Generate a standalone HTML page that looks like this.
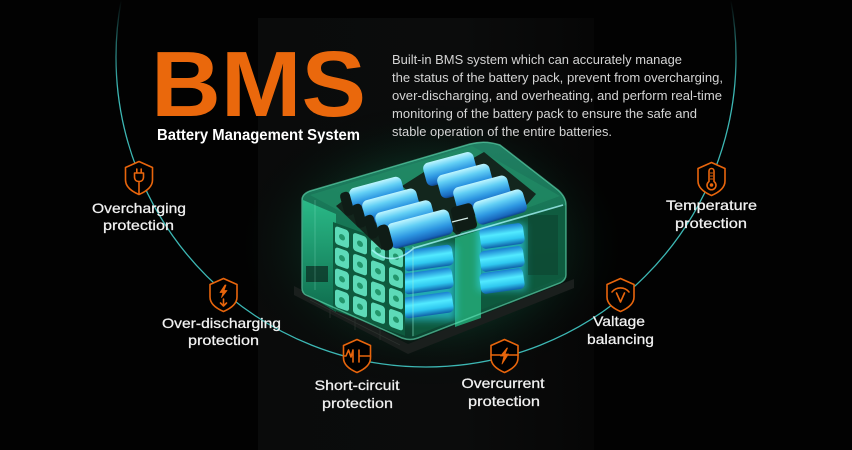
<!DOCTYPE html>
<html><head><meta charset="utf-8"><style>
html,body{margin:0;padding:0;background:#000;}
svg{display:block;}
</style></head><body>
<svg width="852" height="450" viewBox="0 0 852 450" xmlns="http://www.w3.org/2000/svg">
<defs>
  <linearGradient id="panel" x1="0" y1="0" x2="1" y2="0">
    <stop offset="0" stop-color="#0a0b0b"/>
    <stop offset="0.6" stop-color="#0b0c0c"/>
    <stop offset="1" stop-color="#060606"/>
  </linearGradient>
  <radialGradient id="glow" cx="0.5" cy="0.5" r="0.5">
    <stop offset="0" stop-color="#10744c" stop-opacity="0.85"/>
    <stop offset="0.55" stop-color="#0a3e2a" stop-opacity="0.5"/>
    <stop offset="1" stop-color="#000" stop-opacity="0"/>
  </radialGradient>
  <linearGradient id="arcg" gradientUnits="userSpaceOnUse" x1="0" y1="0" x2="0" y2="90">
    <stop offset="0" stop-color="#3cb7b4" stop-opacity="0"/>
    <stop offset="0.5" stop-color="#3cb7b4" stop-opacity="0.6"/>
    <stop offset="1" stop-color="#3cb7b4" stop-opacity="1"/>
  </linearGradient>
  <linearGradient id="cylTop" x1="0" y1="0" x2="0" y2="1">
    <stop offset="0" stop-color="#c0f6ff"/>
    <stop offset="0.3" stop-color="#62cff5"/>
    <stop offset="0.62" stop-color="#2e98e2"/>
    <stop offset="0.9" stop-color="#1866bc"/>
    <stop offset="1" stop-color="#0f4488"/>
  </linearGradient>
  <linearGradient id="cylSide" x1="0" y1="0" x2="0" y2="1">
    <stop offset="0" stop-color="#1a7fd0"/>
    <stop offset="0.4" stop-color="#52eaff"/>
    <stop offset="0.7" stop-color="#2fc8f0"/>
    <stop offset="1" stop-color="#0f5fa8"/>
  </linearGradient>
  <linearGradient id="glass" x1="0" y1="0" x2="0" y2="1">
    <stop offset="0" stop-color="#23886a"/>
    <stop offset="0.5" stop-color="#157a56"/>
    <stop offset="1" stop-color="#0c4531"/>
  </linearGradient>
  <linearGradient id="leftGlass" x1="0" y1="0" x2="0" y2="1">
    <stop offset="0" stop-color="#2cc08c"/>
    <stop offset="1" stop-color="#0f7050"/>
  </linearGradient>
  <filter id="blur4" x="-50%" y="-50%" width="200%" height="200%"><feGaussianBlur stdDeviation="4"/></filter>
</defs>

<!-- background -->
<rect width="852" height="450" fill="#020202"/>
<rect x="258" y="18" width="336" height="432" fill="url(#panel)"/>

<!-- glow -->
<ellipse cx="432" cy="245" rx="200" ry="145" fill="url(#glow)"/>

<!-- base plate -->
<polygon points="294,286 408,344 574,279 574,288 408,354 294,295" fill="#1a1f1d"/>
<g stroke="#2a302d" stroke-width="0.8">
  <line x1="310" y1="300" x2="400" y2="345"/>
  <line x1="330" y1="296" x2="330" y2="318"/>
  <line x1="355" y1="300" x2="355" y2="330"/>
  <line x1="380" y1="310" x2="380" y2="340"/>
</g>

<!-- glass body -->
<path d="M302,200 Q302,194 310,191 L470,144 Q485,140 500,145 L558,190 Q566,197 566,205 L566,275 Q566,280 560,283 L418,338 Q410,341 402,338 L306,295 Q302,293 302,288 Z" fill="url(#glass)" fill-opacity="0.92"/>
<polygon points="303,200 336,214 336,312 303,292" fill="url(#leftGlass)" opacity="0.9"/>
<rect x="306" y="266" width="22" height="16" fill="#0b2a1f" opacity="0.7"/>

<!-- right face -->
<polygon points="412,250 566,205 566,276 412,337" fill="#0e5a3e" opacity="0.9"/>
<polygon points="455,238 481,230 481,318 455,327" fill="#22a574" opacity="0.9"/>
<g filter="url(#blur4)" fill="#2fe0ff" opacity="0.6">
  <rect x="400" y="246" width="56" height="74"/>
  <rect x="478" y="224" width="48" height="66"/>
</g>
<g fill="url(#cylSide)">
  <g transform="translate(428,258) rotate(-8)"><rect x="-25" y="-10.5" width="50" height="21" rx="5"/></g>
  <g transform="translate(428,281) rotate(-8)"><rect x="-25" y="-10.5" width="50" height="21" rx="5"/></g>
  <g transform="translate(428,305) rotate(-8)"><rect x="-25" y="-10.5" width="50" height="21" rx="5"/></g>
  <g transform="translate(502,236) rotate(-8)"><rect x="-22" y="-10.5" width="44" height="21" rx="5"/></g>
  <g transform="translate(502,259) rotate(-8)"><rect x="-22" y="-10.5" width="44" height="21" rx="5"/></g>
  <g transform="translate(502,281) rotate(-8)"><rect x="-22" y="-10.5" width="44" height="21" rx="5"/></g>
</g>
<rect x="528" y="215" width="30" height="60" fill="#0b3d2b" opacity="0.5"/>

<!-- left face cell grid -->
<g transform="matrix(1,0.36,0,1,333,222)">
  <rect x="0" y="0" width="72" height="88" fill="#0e5a3e"/>
  <g fill="#66e8c6" opacity="0.9">
    <rect x="2" y="3" width="14" height="18" rx="3"/><rect x="20" y="3" width="14" height="18" rx="3"/><rect x="38" y="3" width="14" height="18" rx="3"/><rect x="56" y="3" width="14" height="18" rx="3"/>
    <rect x="2" y="24" width="14" height="18" rx="3"/><rect x="20" y="24" width="14" height="18" rx="3"/><rect x="38" y="24" width="14" height="18" rx="3"/><rect x="56" y="24" width="14" height="18" rx="3"/>
    <rect x="2" y="45" width="14" height="18" rx="3"/><rect x="20" y="45" width="14" height="18" rx="3"/><rect x="38" y="45" width="14" height="18" rx="3"/><rect x="56" y="45" width="14" height="18" rx="3"/>
    <rect x="2" y="66" width="14" height="18" rx="3"/><rect x="20" y="66" width="14" height="18" rx="3"/><rect x="38" y="66" width="14" height="18" rx="3"/><rect x="56" y="66" width="14" height="18" rx="3"/>
  </g>
  <g fill="#23966c">
    <circle cx="9" cy="12" r="3"/><circle cx="27" cy="12" r="3"/><circle cx="45" cy="12" r="3"/><circle cx="63" cy="12" r="3"/>
    <circle cx="9" cy="33" r="3"/><circle cx="27" cy="33" r="3"/><circle cx="45" cy="33" r="3"/><circle cx="63" cy="33" r="3"/>
    <circle cx="9" cy="54" r="3"/><circle cx="27" cy="54" r="3"/><circle cx="45" cy="54" r="3"/><circle cx="63" cy="54" r="3"/>
    <circle cx="9" cy="75" r="3"/><circle cx="27" cy="75" r="3"/><circle cx="45" cy="75" r="3"/><circle cx="63" cy="75" r="3"/>
  </g>
</g>

<!-- top glass surface -->
<polygon points="310,195 472,146 560,196 412,250" fill="#229068" opacity="0.55"/>

<!-- holders -->
<g fill="#13261d">
  <polygon points="336,206 352,194 396,236 382,250"/>
  <polygon points="402,186 424,172 478,212 458,236"/>
  <polygon points="470,160 484,152 536,194 524,208"/>
</g>

<!-- top cylinders -->
<g fill="url(#cylTop)">
  <g transform="translate(450,169) rotate(-15)"><rect x="-26" y="-12" width="52" height="24" rx="6"/></g>
  <g transform="translate(465,181) rotate(-15)"><rect x="-27" y="-12" width="54" height="24" rx="6"/></g>
  <g transform="translate(482,193) rotate(-15)"><rect x="-28" y="-12" width="56" height="24" rx="6"/></g>
  <g transform="translate(500,207) rotate(-17)"><rect x="-26" y="-12" width="52" height="24" rx="6"/></g>
  <g transform="translate(377,194) rotate(-15)"><rect x="-27" y="-12" width="54" height="24" rx="6"/></g>
  <g transform="translate(391,206) rotate(-15)"><rect x="-28" y="-12" width="56" height="24" rx="6"/></g>
  <g transform="translate(405,218) rotate(-15)"><rect x="-29" y="-12" width="58" height="24" rx="6"/></g>
  <g transform="translate(420,229) rotate(-15)"><rect x="-32" y="-13" width="64" height="26" rx="6"/></g>
</g>
<g fill="#0f1c16">
  <g transform="translate(387,237) rotate(-15)"><rect x="-8" y="-13" width="12" height="26" rx="5"/></g>
  <g transform="translate(374,226) rotate(-15)"><rect x="-8" y="-12" width="10" height="24" rx="4"/></g>
  <g transform="translate(362,215) rotate(-15)"><rect x="-8" y="-12" width="10" height="24" rx="4"/></g>
  <g transform="translate(350,203) rotate(-15)"><rect x="-8" y="-12" width="10" height="24" rx="4"/></g>
  <g transform="translate(463,218) rotate(-15)"><rect x="-10" y="-13" width="22" height="26" rx="4"/></g>
</g>
<path d="M452,222 L468,218" stroke="#d8f0ea" stroke-width="1.2" fill="none"/>

<!-- glass edges & highlights -->
<path d="M302,200 Q302,194 310,191 L470,144 Q485,140 500,145 L558,190 Q566,197 566,205 L566,275 Q566,280 560,283 L418,338 Q410,341 402,338 L306,295 Q302,293 302,288 Z" fill="none" stroke="#66e6bb" stroke-opacity="0.6" stroke-width="1.5"/>
<path d="M372,250 Q392,268 414,248 L563,205" fill="none" stroke="#aef8ff" stroke-width="1.6" stroke-opacity="0.75"/>
<line x1="413" y1="246" x2="413" y2="336" stroke="#9ff0d8" stroke-opacity="0.5" stroke-width="1"/>
<line x1="315" y1="200" x2="315" y2="290" stroke="#9ff0d8" stroke-opacity="0.25" stroke-width="1"/>

<!-- arc -->
<circle cx="426" cy="57" r="310" fill="none" stroke="url(#arcg)" stroke-width="1.3"/>

<!-- title -->
<text x="151" y="116" font-family="Liberation Sans, sans-serif" font-weight="bold" font-size="93" fill="#ea680c" textLength="215" lengthAdjust="spacingAndGlyphs">BMS</text>
<text x="157" y="140" font-family="Liberation Sans, sans-serif" font-weight="bold" font-size="16" fill="#ffffff" textLength="203" lengthAdjust="spacingAndGlyphs">Battery Management System</text>

<!-- paragraph -->
<g font-family="Liberation Sans, sans-serif" font-size="12.5" fill="#d4d4d4">
  <text x="392" y="64" textLength="290" lengthAdjust="spacingAndGlyphs">Built-in BMS system which can accurately manage</text>
  <text x="392" y="82" textLength="331" lengthAdjust="spacingAndGlyphs">the status of the battery pack, prevent from overcharging,</text>
  <text x="392" y="100" textLength="330" lengthAdjust="spacingAndGlyphs">over-discharging, and overheating, and perform real-time</text>
  <text x="392" y="118" textLength="305" lengthAdjust="spacingAndGlyphs">monitoring of the battery pack to ensure the safe and</text>
  <text x="392" y="136" textLength="220" lengthAdjust="spacingAndGlyphs">stable operation of the entire batteries.</text>
</g>

<!-- icons -->
<g stroke="#e8650c" stroke-width="1.6" stroke-linejoin="round" stroke-linecap="round">
  <g transform="translate(139,178)">
    <path d="M0,-16.5 L13.5,-10.5 L13.5,2 C13.5,9 7,13.5 0,16.5 C-7,13.5 -13.5,9 -13.5,2 L-13.5,-10.5 Z" fill="#000"/>
    <path d="M-2.2,-9 V-5 M2.2,-9 V-5 M-4.5,-5 H4.5 V-1 C4.5,2 2.5,3.5 0,3.5 C-2.5,3.5 -4.5,2 -4.5,-1 Z M0,3.5 V16" fill="none"/>
  </g>
  <g transform="translate(223.5,295)">
    <path d="M0,-16.5 L13.5,-10.5 L13.5,2 C13.5,9 7,13.5 0,16.5 C-7,13.5 -13.5,9 -13.5,2 L-13.5,-10.5 Z" fill="#000"/>
    <path d="M1.5,-10 L-3.5,-2.5 L-0.5,-2.5 L-2,2.5 L3.5,-4.5 L0.5,-4.5 L2.5,-10 Z" fill="#e8650c" stroke-width="0.8"/>
    <path d="M0,4 V11 M-3,8 L0,11 L3,8" fill="none"/>
  </g>
  <g transform="translate(357,356)">
    <path d="M0,-16.5 L13.5,-10.5 L13.5,2 C13.5,9 7,13.5 0,16.5 C-7,13.5 -13.5,9 -13.5,2 L-13.5,-10.5 Z" fill="#000"/>
    <path d="M-13.5,0 H-11 L-8.5,-6 L-6,1 L-4,-6 V6 M2,-6 V6 M2,0 H13.5" fill="none"/>
  </g>
  <g transform="translate(504.5,356)">
    <path d="M0,-16.5 L13.5,-10.5 L13.5,2 C13.5,9 7,13.5 0,16.5 C-7,13.5 -13.5,9 -13.5,2 L-13.5,-10.5 Z" fill="#000"/>
    <path d="M-13.5,-1 H-4 M4,-1 H13.5" fill="none"/>
    <path d="M2.5,-8 L-4,0 L-0.5,0 L-2.5,8 L4,-2 L0.5,-2 L3,-8 Z" fill="#e8650c" stroke-width="0.8"/>
  </g>
  <g transform="translate(711.5,179)">
    <path d="M0,-16.5 L13.5,-10.5 L13.5,2 C13.5,9 7,13.5 0,16.5 C-7,13.5 -13.5,9 -13.5,2 L-13.5,-10.5 Z" fill="#000"/>
    <path d="M-2.5,2.5 V-8 A2.5,2.5 0 0 1 2.5,-8 V2.5 A4.5,4.5 0 1 1 -2.5,2.5 Z" fill="none"/>
    <circle cx="0" cy="6" r="1.8" fill="#e8650c" stroke="none"/>
    <path d="M-1,-6 H1 M-1,-3 H1 M-1,0 H1" fill="none" stroke-width="1.1"/>
  </g>
  <g transform="translate(620.5,295)">
    <path d="M0,-16.5 L13.5,-10.5 L13.5,2 C13.5,9 7,13.5 0,16.5 C-7,13.5 -13.5,9 -13.5,2 L-13.5,-10.5 Z" fill="#000"/>
    <path d="M-8.5,-3 A11,11 0 0 1 8.5,-3" fill="none"/>
    <path d="M-4,-2 L0,7 L4,-2" fill="none"/>
  </g>
</g>

<!-- labels -->
<g font-family="Liberation Sans, sans-serif" font-size="14" fill="#f2f2f2" stroke="#f2f2f2" stroke-width="0.25" text-anchor="middle">
  <text x="139" y="213" textLength="94" lengthAdjust="spacingAndGlyphs">Overcharging</text>
  <text x="138.5" y="230" textLength="71" lengthAdjust="spacingAndGlyphs">protection</text>
  <text x="221.5" y="328" textLength="119" lengthAdjust="spacingAndGlyphs">Over-discharging</text>
  <text x="223.5" y="345" textLength="71" lengthAdjust="spacingAndGlyphs">protection</text>
  <text x="357" y="390" textLength="85" lengthAdjust="spacingAndGlyphs">Short-circuit</text>
  <text x="357.5" y="408" textLength="71" lengthAdjust="spacingAndGlyphs">protection</text>
  <text x="503" y="388" textLength="83" lengthAdjust="spacingAndGlyphs">Overcurrent</text>
  <text x="504" y="406" textLength="72" lengthAdjust="spacingAndGlyphs">protection</text>
  <text x="711.5" y="210" textLength="91" lengthAdjust="spacingAndGlyphs">Temperature</text>
  <text x="711" y="228" textLength="72" lengthAdjust="spacingAndGlyphs">protection</text>
  <text x="619" y="326" textLength="52" lengthAdjust="spacingAndGlyphs">Valtage</text>
  <text x="620.5" y="344" textLength="67" lengthAdjust="spacingAndGlyphs">balancing</text>
</g>
</svg>
</body></html>
